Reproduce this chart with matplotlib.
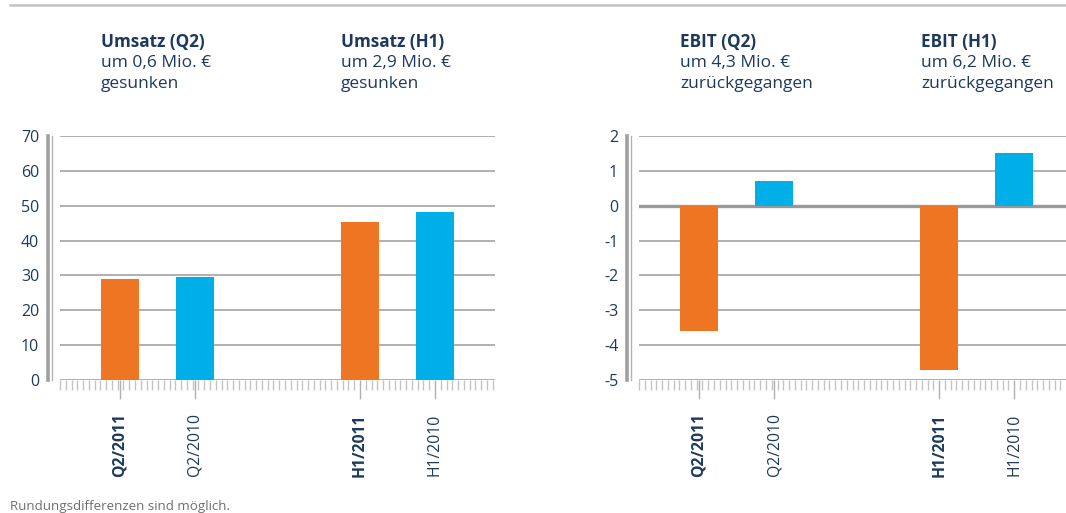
import matplotlib.pyplot as plt
from matplotlib.lines import Line2D
import numpy as np

# Daten (Mio. €)
labels = ['Q2/2011', 'Q2/2010', 'H1/2011', 'H1/2010']
umsatz = [29.0, 29.5, 45.3, 48.2]
ebit = [-3.6, 0.7, -4.7, 1.5]
bold_labels = [True, False, True, False]

koepfe_links = [('Umsatz (Q2)', 'um 0,6 Mio. €', 'gesunken'),
                ('Umsatz (H1)', 'um 2,9 Mio. €', 'gesunken')]
koepfe_rechts = [('EBIT (Q2)', 'um 4,3 Mio. €', 'zurückgegangen'),
                 ('EBIT (H1)', 'um 6,2 Mio. €', 'zurückgegangen')]

plt.rcParams['font.family'] = ['Open Sans', 'DejaVu Sans']

W, H = 1066, 513
orange = '#ee7623'
blau = '#00aee8'
navy = '#1d3a5c'
grau = '#a3a3a3'

pos = [0, 1, 3.2, 4.2]
farben = [orange, blau, orange, blau]

fig = plt.figure(figsize=(W / 100, H / 100), dpi=100)


def px(x, y):
    return x / W, 1 - y / H


def diagramm(left_px, right_px, werte, ylim, yticks, xmax, zero_line=False):
    l, b = px(left_px, 380)
    ax = fig.add_axes([l, b, (right_px - left_px) / W, 244 / H])
    ax.bar(pos, werte, width=0.51, color=farben, zorder=3)
    ax.set_xlim(-0.8, xmax)
    ax.set_ylim(*ylim)
    ax.set_yticks(yticks)
    ax.set_yticklabels([str(t) for t in yticks])
    ax.grid(axis='y', color=grau, linewidth=1.2, zorder=1)
    ax.set_axisbelow(True)
    for s in ax.spines.values():
        s.set_visible(False)
    if zero_line:
        ax.axhline(0, color='#999999', linewidth=2.4, zorder=2)
    ax.tick_params(axis='y', length=0, pad=15, labelsize=11.5, labelcolor=navy)
    ax.set_xticks(pos)
    ax.set_xticklabels(labels, rotation=90, fontsize=11.3, color=navy)
    for t, b_ in zip(ax.get_xticklabels(), bold_labels):
        if b_:
            t.set_fontweight('bold')
    ax.set_xticks(np.arange(-0.8, xmax, 1 / 13), minor=True)
    ax.tick_params(axis='x', which='major', length=14, width=1, color='#b0b0b0',
                   pad=10, direction='out')
    ax.tick_params(axis='x', which='minor', length=7.5, width=1, color='#c4c4c4',
                   direction='out')
    # y-Achsenbalken links
    x1, _ = px(left_px - 12.5, 0)
    x2, _ = px(left_px - 8.5, 0)
    y1 = 1 - 136 / H
    y0 = 1 - 380 / H
    fig.add_artist(Line2D([x1, x1], [y0, y1], color='#a0a0a0', linewidth=2.6))
    fig.add_artist(Line2D([x2, x2], [y0, y1], color='#b5b5b5', linewidth=1))
    return ax


diagramm(60, 495, umsatz, (0, 70), list(range(0, 71, 10)), 5.0)
diagramm(639, 1066, ebit, (-5, 2), list(range(-5, 3)), 4.89, zero_line=True)

# Überschriften
for (k, z1, z2), x in zip(koepfe_links + koepfe_rechts, [101, 341, 680, 921]):
    fig.text(*px(x, 47), k, fontsize=12.3, fontweight='bold', color=navy, va='baseline')
    fig.text(*px(x, 67), z1, fontsize=12.5, color=navy, va='baseline')
    fig.text(*px(x, 88), z2, fontsize=12.5, color=navy, va='baseline')

# Linie oben
fig.add_artist(Line2D([10 / W, 1], [1 - 5 / H] * 2, color='#c4c4c4', linewidth=1.8))

fig.text(*px(10, 510), 'Rundungsdifferenzen sind möglich.', fontsize=9.6,
         color='#707070', va='baseline')

fig.savefig('out.png', dpi=100)
